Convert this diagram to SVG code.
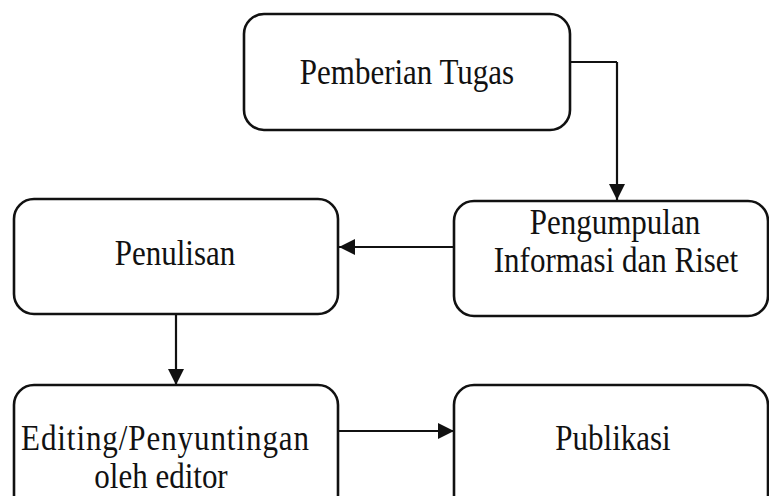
<svg xmlns="http://www.w3.org/2000/svg" width="769" height="496" viewBox="0 0 769 496">
<style>
.box{fill:#fff;stroke:#111;stroke-width:2.6}
.lbl{font-family:"Liberation Serif","Times New Roman",serif;font-size:31px;fill:#111;text-anchor:middle}
.con{fill:none;stroke:#111;stroke-width:2.2}
</style>
<defs>
<marker id="ah" markerUnits="userSpaceOnUse" markerWidth="17" markerHeight="16" refX="16" refY="8" orient="auto">
<path d="M0,0 L16,8 L0,16 Z" fill="#111"/>
</marker>
</defs>
<rect width="769" height="496" fill="#fff"/>
<g id="connectors">
<path class="con" d="M570,62 H617" stroke-width="1.2"/>
<path class="con" d="M617,62 V200" marker-end="url(#ah)"/>
<path class="con" d="M454,247 H339" marker-end="url(#ah)"/>
<path class="con" d="M176,315 V385" marker-end="url(#ah)"/>
<path class="con" d="M338,431 H454" marker-end="url(#ah)"/>
</g>
<g id="n1">
<rect class="box" x="244" y="14" width="326" height="116" rx="20"/>
<text class="lbl" transform="translate(407,84) scale(1,1.16)">Pemberian Tugas</text>
</g>
<g id="n2">
<rect class="box" x="454" y="201" width="314" height="115" rx="20"/>
<text class="lbl" transform="translate(615,234) scale(1,1.16)">Pengumpulan</text>
<text class="lbl" transform="translate(616,272) scale(1,1.16)">Informasi dan Riset</text>
</g>
<g id="n3">
<rect class="box" x="14" y="199" width="324" height="115" rx="20"/>
<text class="lbl" transform="translate(175,265) scale(1,1.16)">Penulisan</text>
</g>
<g id="n4">
<rect class="box" x="14" y="385" width="324" height="130" rx="20"/>
<text class="lbl" transform="translate(165,450) scale(1,1.16)" textLength="288" lengthAdjust="spacing">Editing/Penyuntingan</text>
<text class="lbl" transform="translate(161,488) scale(1,1.16)">oleh editor</text>
</g>
<g id="n5">
<rect class="box" x="454" y="385" width="314" height="130" rx="20"/>
<text class="lbl" transform="translate(613,450) scale(1,1.16)">Publikasi</text>
</g>
</svg>
